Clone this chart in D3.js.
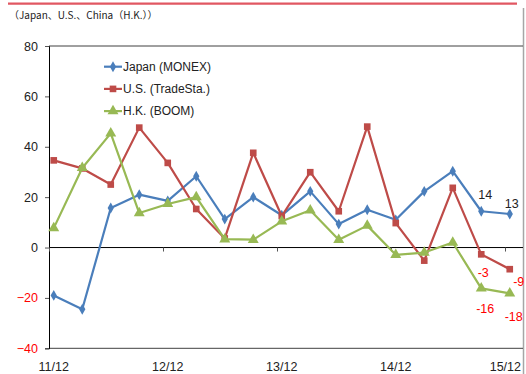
<!DOCTYPE html>
<html>
<head>
<meta charset="utf-8">
<script src="https://cdn.jsdelivr.net/npm/d3@7"></script>
<style>
  html, body { margin: 0; padding: 0; background: #fff; }
  svg { display: block; font-family: "Liberation Sans", Arial, sans-serif; }
</style>
</head>
<body>
<svg id="chart" width="526" height="374"></svg>
<script>
// Quarterly periods (yy/mm)
const categories = ["11/12","12/03","12/06","12/09","12/12","13/03","13/06","13/09","13/12",
                    "14/03","14/06","14/09","14/12","15/03","15/06","15/09","15/12"];
const tickLabels = ["11/12","12/12","13/12","14/12","15/12"];
const yTicks = [-40, -20, 0, 20, 40, 60, 80];

const seriesNames = ["Japan (MONEX)", "U.S. (TradeSta.)", "H.K. (BOOM)"];
const japan = [-19, -24.5, 15.7, 21, 18.5, 28.3, 11.3, 20, 12.8, 22.3, 9.3, 15, 11, 22.3, 30.3, 14.4, 13.3];
const us    = [34.6, 31.4, 25, 47.6, 33.6, 15.3, 3.6, 37.6, 12.5, 29.9, 14.4, 48, 9.7, -5.2, 23.7, -2.7, -8.6];
const hk    = [7.7, 31.6, 45.3, 13.7, 17.3, 20, 3.3, 3.1, 10.4, 14.8, 3.1, 8.7, -2.9, -2, 2, -16.2, -18.2];

const svg = d3.select("#chart");
const colors = ["#4a7ebb", "#be4b48", "#98b954"];
const symbols = [d3.symbolDiamond, d3.symbolSquare, d3.symbolTriangle];
const symSizes = [34, 44, 52];

// Header rule and frame
svg.append("line").attr("x1", 8).attr("x2", 517).attr("y1", 3.7).attr("y2", 3.7)
  .attr("stroke", "#e15762").attr("stroke-width", 2.2);
svg.append("line").attr("x1", 523.5).attr("x2", 523.5).attr("y1", 8).attr("y2", 374)
  .attr("stroke", "#a6a6a6").attr("stroke-width", 1.5);

svg.append("text").attr("x", 9).attr("y", 19)
  .style("font-family", "'Noto Sans CJK JP', sans-serif").style("font-size", "10px")
  .attr("fill", "#222").text("（Japan、U.S.、China（H.K.））");

// Monthly slots along the time axis; each quarter sits in the middle of its month slot
const x = d3.scaleLinear().domain([0, 50]).range([49, 524]);
const y = d3.scaleLinear().domain([-40, 80]).range([348.3, 46]);
const px = i => x(i * 3 + 0.5);

// Plot frame: top and bottom edges
[80, -40].forEach(v => {
  svg.append("line").attr("x1", x(0)).attr("x2", 523).attr("y1", y(v)).attr("y2", y(v))
    .attr("stroke", "#404040").attr("stroke-width", 1);
});

// Y axis
const yAxis = svg.append("g").attr("transform", `translate(${x(0)},0)`)
  .call(d3.axisLeft(y).tickValues(yTicks).tickSize(4).tickPadding(7).tickFormat(d3.format("d")));
yAxis.select(".domain").attr("stroke", "#000");
yAxis.selectAll(".tick line").attr("stroke", "#555");
yAxis.selectAll("text").style("font-size", "12.5px")
  .attr("fill", d => d < 0 ? "#ff0000" : "#222");

// Category axis crossing at zero
const xAxis = svg.append("g").attr("transform", `translate(0,${y(0)})`)
  .call(d3.axisBottom(x).tickValues([0, 12, 24, 36, 48]).tickSize(4).tickFormat(""));
xAxis.select(".domain").attr("stroke", "#000").attr("d", `M${x(0)},0H523`);
xAxis.selectAll(".tick line").attr("stroke", "#555");

// Tick labels at the bottom edge, kept inside the frame
const xl = svg.append("g");
tickLabels.forEach((t, k) => {
  const txt = xl.append("text").attr("y", 371).attr("text-anchor", "middle")
    .style("font-size", "12.5px").attr("fill", "#222").text(t);
  const w = txt.node().getComputedTextLength();
  const cx = Math.min(x(k * 12 + 0.5), 521 - w / 2);
  txt.attr("x", cx);
});

// Series lines and markers
const data = [japan, us, hk];
const line = d3.line().x((d, i) => px(i)).y(d => y(d));
// draw in Excel order: later series on top
data.forEach((vals, s) => {
  const g = svg.append("g");
  g.append("path").datum(vals).attr("d", line).attr("fill", "none")
    .attr("stroke", colors[s]).attr("stroke-width", 2.2).attr("stroke-linejoin", "round");
  g.selectAll("path.m").data(vals).join("path").attr("class", "m")
    .attr("transform", (d, i) => `translate(${px(i)},${y(d)})`)
    .attr("d", d3.symbol().type(symbols[s]).size(symSizes[s]))
    .attr("fill", colors[s]);
});

// Value labels on the last two quarters
const labelOffsets = [
  [[4, -17], [2, -10]],
  [[2, 18], [9, 12]],
  [[4, 20], [4, 23]]
];
data.forEach((vals, s) => {
  [15, 16].forEach((i, k) => {
    const v = Math.round(vals[i]);
    svg.append("text")
      .attr("x", px(i) + labelOffsets[s][k][0])
      .attr("y", y(vals[i]) + labelOffsets[s][k][1])
      .attr("dy", "0.35em").attr("text-anchor", "middle")
      .style("font-size", "12.5px")
      .attr("fill", v < 0 ? "#ff0000" : "#222")
      .text(v);
  });
});

// Legend
const legend = svg.append("g");
seriesNames.forEach((name, s) => {
  const ly = 66.7 + s * 22.2;
  legend.append("line").attr("x1", 104).attr("x2", 122).attr("y1", ly).attr("y2", ly)
    .attr("stroke", colors[s]).attr("stroke-width", 2.2);
  legend.append("path").attr("transform", `translate(113,${ly})`)
    .attr("d", d3.symbol().type(symbols[s]).size(symSizes[s])).attr("fill", colors[s]);
  legend.append("text").attr("x", 123).attr("y", ly).attr("dy", "0.35em")
    .style("font-size", "12px").attr("fill", "#222").text(name);
});
</script>
</body>
</html>
